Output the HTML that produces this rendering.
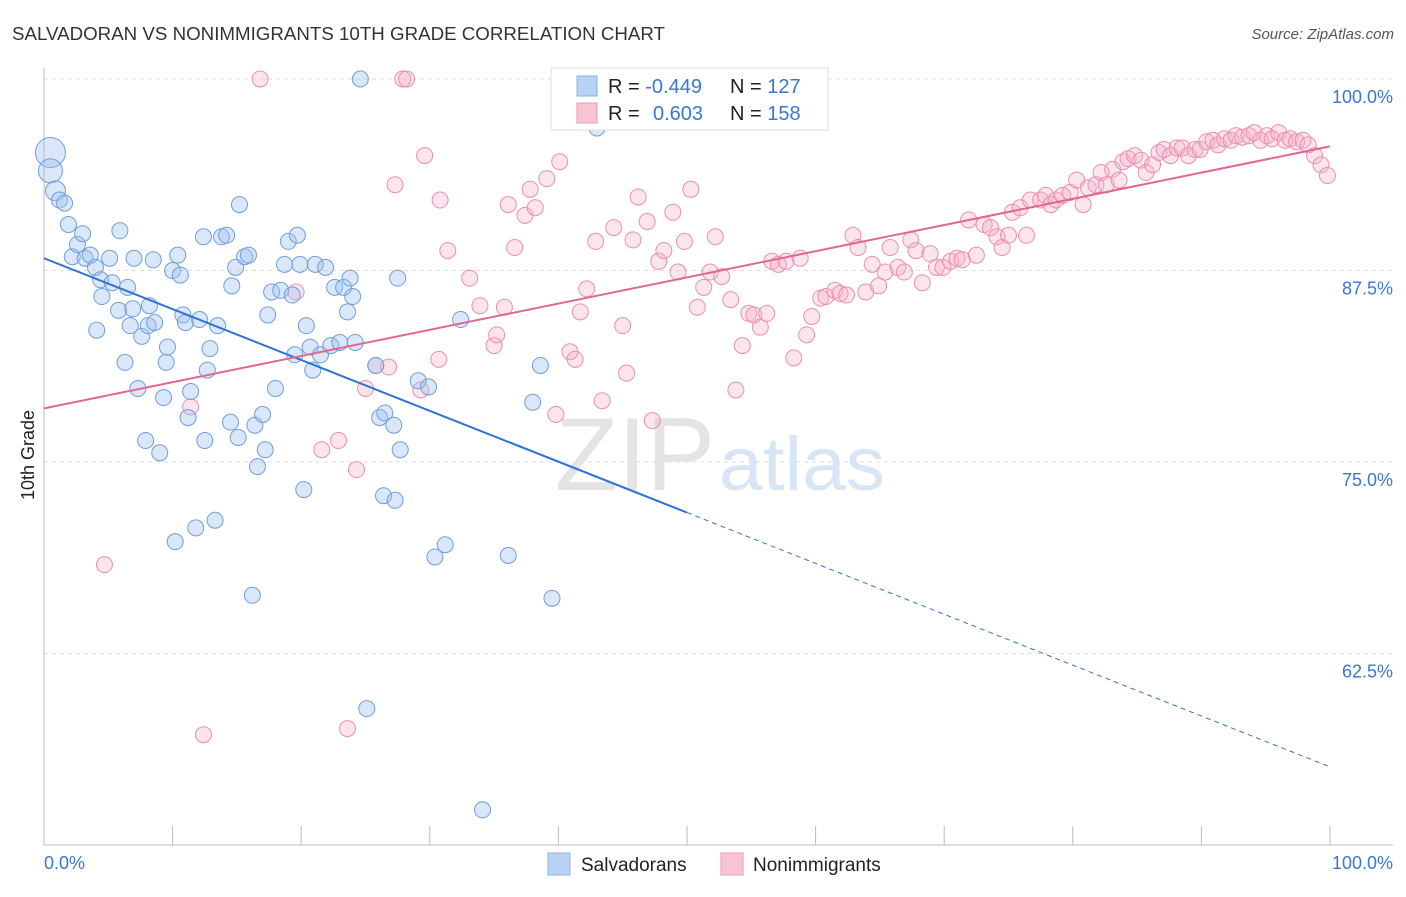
<!DOCTYPE html>
<html><head><meta charset="utf-8">
<style>
body{margin:0;background:#fff;font-family:"Liberation Sans",sans-serif;}
svg text{font-family:"Liberation Sans",sans-serif;}
</style></head>
<body>
<svg id="chart" width="1406" height="892" viewBox="0 0 1406 892">
<text x="12" y="40" font-size="18" fill="#333" textLength="653" lengthAdjust="spacingAndGlyphs">SALVADORAN VS NONIMMIGRANTS 10TH GRADE CORRELATION CHART</text>
<text x="1394" y="39" font-size="15" fill="#555" font-style="italic" text-anchor="end">Source: ZipAtlas.com</text>
<text transform="translate(34,455) rotate(-90)" font-size="18" fill="#222" text-anchor="middle">10th Grade</text>
<g id="grid"></g>
<text x="555" y="490" font-size="104" fill="#e4e4e4" font-family="Liberation Serif" textLength="160" lengthAdjust="spacingAndGlyphs">ZIP</text>
<text x="719" y="490" font-size="76" fill="#d7e5f5" textLength="166" lengthAdjust="spacingAndGlyphs">atlas</text>
<g id="marks"></g>
<g id="trends"></g>
<g>
<rect x="551" y="68" width="277" height="62" fill="#fff" stroke="#ddd"/>
<rect x="577" y="76" width="20" height="20" fill="#b8d2f4" stroke="#8ab2e6"/>
<rect x="577" y="103" width="20" height="20" fill="#f8c4d4" stroke="#ec9ab4"/>
<text x="608" y="93" font-size="20" fill="#222">R = <tspan fill="#3a78d0">-0.449</tspan></text>
<text x="730" y="93" font-size="20" fill="#222">N = <tspan fill="#3a78d0">127</tspan></text>
<text x="608" y="120" font-size="20" fill="#222">R = <tspan fill="#3a78d0" x="653">0.603</tspan></text>
<text x="730" y="120" font-size="20" fill="#222">N = <tspan fill="#3a78d0">158</tspan></text>
</g>
<g>
<rect x="548" y="853" width="22" height="22" fill="#b8d2f4" stroke="#8ab2e6"/>
<text x="581" y="871" font-size="19" fill="#222">Salvadorans</text>
<rect x="721" y="853" width="22" height="22" fill="#f8c4d4" stroke="#ec9ab4"/>
<text x="753" y="871" font-size="19" fill="#222">Nonimmigrants</text>
</g>
</svg>
<script>
const blueX=[0.5,0.5,0.9,1.2,1.6,1.9,2.2,2.6,3.0,3.2,3.6,4.0,4.4,4.5,4.1,5.1,5.3,5.8,5.9,6.3,6.5,6.7,6.9,7.0,7.3,7.6,7.9,8.1,8.2,8.5,8.6,9.0,9.3,9.5,9.6,10.0,10.2,10.4,10.6,10.8,11.0,11.2,11.4,11.8,12.1,12.4,12.5,12.7,12.9,13.3,13.5,13.8,14.2,14.5,14.6,14.9,15.1,15.2,15.6,15.9,16.2,16.4,16.6,17.0,17.2,17.4,17.7,18.0,18.4,18.7,19.0,19.3,19.5,19.7,19.9,20.2,20.4,20.7,20.9,21.1,21.5,21.9,22.3,22.6,23.0,23.3,23.6,23.8,24.0,24.2,24.6,25.1,25.8,26.1,26.4,26.5,27.2,27.3,27.5,27.7,29.1,29.9,30.4,31.2,32.4,34.1,36.1,38.0,38.6,39.5,43.0];
const blueY=[95.2,94.0,92.7,92.1,91.9,90.5,88.4,89.2,89.9,88.3,88.5,87.7,86.9,85.8,83.6,88.3,86.7,84.9,90.1,81.5,86.4,83.9,85.0,88.3,79.8,83.2,76.4,83.9,85.2,88.2,84.1,75.6,79.2,81.5,82.5,87.5,69.8,88.5,87.2,84.6,84.1,77.9,79.6,70.7,84.3,89.7,76.4,81.0,82.4,71.2,83.9,89.7,89.8,77.6,86.5,87.7,76.6,91.8,88.4,88.5,66.3,77.4,74.7,78.1,75.8,84.6,86.1,79.8,86.2,87.9,89.4,85.9,82.0,89.8,87.9,73.2,83.9,82.5,81.0,87.9,82.0,87.7,82.6,86.4,82.8,86.4,84.8,87.0,85.8,82.8,100,58.9,81.3,77.9,72.8,78.2,77.4,72.5,87.0,75.8,80.3,79.9,68.8,69.6,84.3,52.3,68.9,78.9,81.3,66.1,96.8];
const pinkX=[4.7,11.4,12.4,16.8,19.6,21.6,22.9,23.6,24.3,25.0,25.8,26.8,27.3,27.9,28.2,29.3,29.6,30.7,30.8,31.4,33.1,33.9,35.0,35.2,35.8,36.1,36.6,37.4,37.8,38.2,39.1,39.8,40.1,40.9,41.3,41.7,42.2,42.9,43.4,44.3,45.0,45.3,45.8,46.2,46.9,47.3,47.8,48.2,48.9,49.3,49.8,50.3,50.8,51.3,51.8,52.2,52.7,53.4,53.8,54.3,54.8,55.2,55.7,56.2,56.6,57.1,57.7,58.3,58.8,59.3,59.7,60.4,60.8,61.5,61.9,62.4,62.9,63.3,63.9,64.4,64.9,65.4,65.8,66.4,66.9,67.4,67.8,68.3,68.9,69.4,69.9,70.5,71.0,71.4,71.9,72.5,73.1,73.6,74.1,74.5,75.0,75.3,75.9,76.4,76.7,77.5,77.9,78.3,78.7,79.2,79.8,80.3,80.8,81.2,81.8,82.2,82.6,83.1,83.6,83.9,84.3,84.8,85.3,85.7,86.2,86.7,87.1,87.6,88.1,88.5,89.0,89.5,89.9,90.4,90.9,91.3,91.8,92.3,92.7,93.2,93.7,94.1,94.6,95.1,95.5,96.0,96.5,96.9,97.4,97.9,98.3,98.8,99.3,99.8];
const pinkY=[68.3,78.6,57.2,100,86.1,75.8,76.4,57.6,74.5,79.8,81.3,81.2,93.1,100,100,79.7,95.0,81.7,92.1,88.8,87.0,85.2,82.6,83.3,85.1,91.8,89.0,91.1,92.8,91.6,93.5,78.1,94.6,82.2,81.7,84.8,86.3,89.4,79.0,90.3,83.9,80.8,89.5,92.3,90.7,77.7,88.1,88.8,91.3,87.4,89.4,92.8,85.1,86.4,87.4,89.7,87.1,85.6,79.7,82.6,84.7,84.6,83.8,84.7,88.1,87.9,88.1,81.8,88.3,83.3,84.5,85.7,85.8,86.2,86.0,85.9,89.8,89.0,86.1,87.9,86.5,87.4,89.0,87.7,87.4,89.5,88.8,86.7,88.6,87.7,87.7,88.1,88.3,88.2,90.8,88.5,90.5,90.3,89.7,89.0,89.8,91.3,91.6,89.8,92.1,92.1,92.4,91.8,92.1,92.4,92.6,93.4,91.8,92.9,93.1,93.9,93.1,94.1,93.4,94.6,94.8,95.0,94.7,93.9,94.4,95.2,95.4,95.0,95.5,95.5,95.0,95.4,95.4,95.9,96.0,95.7,96.1,96.0,96.3,96.2,96.3,96.5,96.0,96.3,96.1,96.5,96.0,96.1,95.9,96.0,95.7,95.0,94.4,93.7];
const yTicks=[100,87.5,75,62.5];
const yTickLabels=["100.0%","87.5%","75.0%","62.5%"];
const xTicks=[0,10,20,30,40,50,60,70,80,90,100];
const blueTrend=[88.3,55.1];
const pinkTrend=[78.5,95.6];
const blueSolidEnd=50;

const NS="http://www.w3.org/2000/svg";
const X=v=>44+v*12.86;
const Y=v=>79+(100-v)*15.32;
function mk(tag,attrs,parent){const e=document.createElementNS(NS,tag);for(const k in attrs)e.setAttribute(k,attrs[k]);parent.appendChild(e);return e;}
const grid=document.getElementById('grid');
yTicks.forEach((t,i)=>{
  const l=mk('line',{x1:44,x2:1393,y1:Y(t),y2:Y(t),stroke:'#ddd','stroke-dasharray':'4,4'},grid);
  
  
  const tx=mk('text',{x:1393,y:Y(t)+24,'font-size':18,fill:'#3a78d0','text-anchor':'end'},grid);
  tx.textContent=yTickLabels[i];
  
  
});
const ax=mk('line',{x1:44,x2:1393,y1:845,y2:845,stroke:'#bbb'},grid);


const ay=mk('line',{x1:44,x2:44,y1:68,y2:845,stroke:'#bbb'},grid);


xTicks.forEach(t=>{if(t===0)return;
  const l=mk('line',{x1:X(t),x2:X(t),y1:826,y2:845,stroke:'#bbb'},grid);
  
  
});
const xl0=mk('text',{x:44,y:869,'font-size':18,fill:'#3a78d0'},grid);xl0.textContent='0.0%';


const xl1=mk('text',{x:1393,y:869,'font-size':18,fill:'#3a78d0','text-anchor':'end'},grid);xl1.textContent='100.0%';



const marks=document.getElementById('marks');
pinkX.forEach((x,i)=>{
  const c=mk('circle',{cx:X(x),cy:Y(pinkY[i]),r:8,fill:'rgba(246,178,200,0.35)',stroke:'#e990ae','stroke-width':1},marks);
  
  
});
blueX.forEach((x,i)=>{
  const r=i===0?15:(i===1?12:(i===2?10:8));
  const c=mk('circle',{cx:X(x),cy:Y(blueY[i]),r:r,fill:'rgba(160,196,240,0.4)',stroke:'#6e9fdc','stroke-width':1},marks);
  
  
});
const tr=document.getElementById('trends');
const by=x=>blueTrend[0]+(blueTrend[1]-blueTrend[0])*x/100;
const py=x=>pinkTrend[0]+(pinkTrend[1]-pinkTrend[0])*x/100;
const t1=mk('line',{x1:X(0),y1:Y(by(0)),x2:X(blueSolidEnd),y2:Y(by(blueSolidEnd)),stroke:'#2f72d6','stroke-width':2},tr);


const t2=mk('line',{x1:X(blueSolidEnd),y1:Y(by(blueSolidEnd)),x2:X(100),y2:Y(by(100)),stroke:'#2f72d6','stroke-width':1,'stroke-dasharray':'5,4'},tr);


const t3=mk('line',{x1:X(0),y1:Y(py(0)),x2:X(100),y2:Y(py(100)),stroke:'#e4668f','stroke-width':2},tr);


</script>
</body></html>
